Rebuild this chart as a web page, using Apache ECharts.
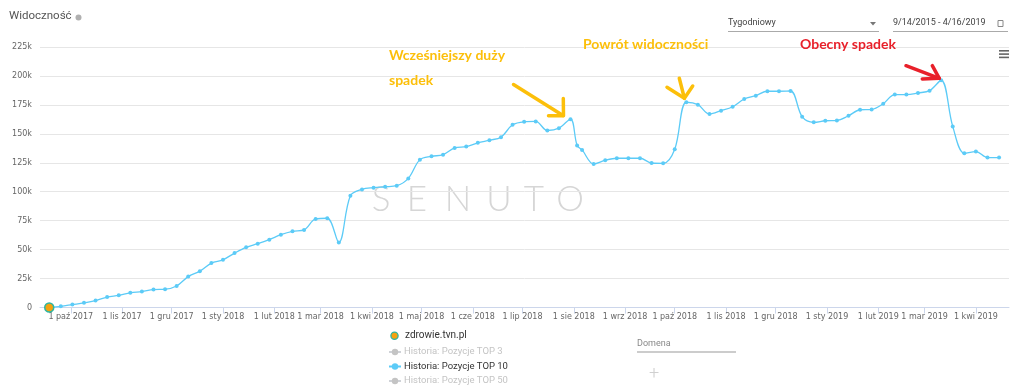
<!DOCTYPE html>
<html>
<head>
<meta charset="utf-8">
<script src="https://cdn.jsdelivr.net/npm/echarts@6/dist/echarts.min.js"></script>
<style>
html,body{margin:0;padding:0;background:#fff;}
#chart{width:1024px;height:391px;}
</style>
</head>
<body>
<div id="chart"></div>
<script>
// ---- data ----
const dates = [
  '2017-09-18','2017-09-25','2017-10-02','2017-10-09','2017-10-16','2017-10-23','2017-10-30',
  '2017-11-06','2017-11-13','2017-11-20','2017-11-27','2017-12-04','2017-12-11','2017-12-18','2017-12-25',
  '2018-01-01','2018-01-08','2018-01-15','2018-01-22','2018-01-29','2018-02-05','2018-02-12','2018-02-19',
  '2018-02-26','2018-03-05','2018-03-12','2018-03-19','2018-03-26','2018-04-02','2018-04-09','2018-04-16',
  '2018-04-23','2018-04-30','2018-05-07','2018-05-14','2018-05-21','2018-05-28','2018-06-04','2018-06-11',
  '2018-06-18','2018-06-25','2018-07-02','2018-07-09','2018-07-16','2018-07-23','2018-07-30','2018-08-03',
  '2018-08-06','2018-08-13','2018-08-20','2018-08-27','2018-09-03','2018-09-10','2018-09-17','2018-09-24',
  '2018-10-01','2018-10-08','2018-10-15','2018-10-22','2018-10-29','2018-11-05','2018-11-12','2018-11-19',
  '2018-11-26','2018-12-03','2018-12-10','2018-12-17','2018-12-24','2018-12-31','2019-01-07','2019-01-14',
  '2019-01-21','2019-01-28','2019-02-04','2019-02-11','2019-02-18','2019-02-25','2019-03-04','2019-03-11',
  '2019-03-18','2019-03-25','2019-04-01','2019-04-08','2019-04-15'
];
const top10Values = [
  0, 1000, 2500, 4000, 6000, 9000, 10500,
  12700, 13800, 15500, 15800, 18600, 26700, 31400, 38400,
  41200, 47000, 52000, 55100, 58600, 62900, 65800, 67000,
  76500, 77100, 56200, 96500, 102000, 103500, 104300, 105200,
  111500, 127700, 130600, 132000, 137800, 139000, 142200, 144500,
  147100, 157800, 160400, 160700, 152900, 154900, 162700, 139900,
  136100, 124000, 127200, 128900, 128900, 128900, 124800, 124500,
  136700, 177300, 175200, 167100, 170000, 173400, 180100, 183000,
  186800, 186800, 187000, 164800, 159900, 161300, 161600, 165600,
  170800, 171100, 176000, 183900, 183900, 185300, 187300, 196300,
  156400, 133200, 134700, 129500, 129500
];
const yTicks = [0, 25000, 50000, 75000, 100000, 125000, 150000, 175000, 200000, 225000];
const monthNames = ['sty','lut','mar','kwi','maj','cze','lip','sie','wrz','paź','lis','gru'];
const seriesNames = ['Historia: Pozycje TOP 3','Historia: Pozycje TOP 10','Historia: Pozycje TOP 50'];
const domainName = 'zdrowie.tvn.pl';

// ---- chart ----
const chart = echarts.init(document.getElementById('chart'), null, {renderer:'canvas'});
const lineColor = '#5ccbf7';
const top10Data = dates.map((d, i) => {
  if (i === 0) {
    return {value:[d, top10Values[i]], symbolSize:9,
      itemStyle:{color:'#f5a20f', borderColor:'#2fb5a0', borderWidth:1.5}};
  }
  return [d, top10Values[i]];
});

const yellow = '#fcbf0a';
const red = '#e8202a';
function arrow(points, color){
  return {type:'polyline', z:100, shape:{points:points},
    style:{stroke:color, lineWidth:3.5, fill:null, lineCap:'round', lineJoin:'round'}};
}
const wm = ['S','E','N','U','T','O'];
const wmX = [381, 417, 458, 499, 534, 570];

const option = {
  animation:false,
  backgroundColor:'#fff',
  grid:{left:40, right:15, top:47, bottom:83.5, containLabel:false},
  xAxis:{
    type:'time',
    min: new Date(2017,8,12,10).getTime(),
    max: new Date(2019,3,21,0).getTime(),
    minInterval: 28*86400000,
    maxInterval: 31*86400000,
    axisLine:{show:true, lineStyle:{color:'#ccd6eb', width:1}},
    axisTick:{show:true, length:6, lineStyle:{color:'#ccd6eb'}},
    splitLine:{show:false},
    axisLabel:{
      color:'#666', fontSize:8, fontFamily:'DejaVu Sans', margin:5,
      showMinLabel:false, showMaxLabel:false,
      formatter:function(val){
        const d = new Date(val);
        return d.getDate() + ' ' + monthNames[d.getMonth()] + ' ' + d.getFullYear();
      }
    }
  },
  yAxis:{
    type:'value', min:yTicks[0], max:yTicks[yTicks.length-1], interval:yTicks[1]-yTicks[0],
    axisLine:{show:false}, axisTick:{show:false},
    splitLine:{lineStyle:{color:'#e6e6e6', width:1}},
    axisLabel:{color:'#666', fontSize:8, fontFamily:'DejaVu Sans', margin:8,
      formatter:function(v){ return v === 0 ? '0' : (v/1000) + 'k'; }}
  },
  legend:{
    orient:'vertical', left:388, top:347, height:44, padding:0, itemGap:4.5,
    itemWidth:12, itemHeight:8,
    data:seriesNames,
    selected:{'Historia: Pozycje TOP 3':false,'Historia: Pozycje TOP 10':true,'Historia: Pozycje TOP 50':false},
    inactiveColor:'#c4c4c4',
    textStyle:{color:'#333', fontSize:9.5, fontFamily:'Roboto', padding:[0,0,0,-2]}
  },
  series:[
    {name:seriesNames[0], type:'line', data:[], color:'#888', symbol:'circle'},
    {name:seriesNames[1], type:'line', data:top10Data, smooth:0.35,
      color:lineColor, symbol:'circle', symbolSize:4, showSymbol:true,
      lineStyle:{color:lineColor, width:1.3}, itemStyle:{color:lineColor}, z:5},
    {name:seriesNames[2], type:'line', data:[], color:'#888', symbol:'circle'}
  ],
  graphic:[
    // title
    {type:'text', left:9, top:10, style:{text:'Widoczność', fill:'#555', font:'11.5px Roboto'}},
    {type:'circle', shape:{cx:78.5, cy:17.5, r:3}, style:{fill:'#b0b0b0'}},
    // period select
    {type:'text', left:728, top:18, style:{text:'Tygodniowy', fill:'#444', font:'9px Roboto'}},
    {type:'polygon', shape:{points:[[870,22],[876,22],[873,25.5]]}, style:{fill:'#777'}},
    {type:'line', shape:{x1:728, y1:31.5, x2:879, y2:31.5}, style:{stroke:'#aaa', lineWidth:1}},
    {type:'text', left:893, top:18, style:{text:'9/14/2015 - 4/16/2019', fill:'#444', font:'9px Roboto'}},
    {type:'rect', shape:{x:998, y:20.5, width:5, height:6}, style:{fill:'none', stroke:'#888', lineWidth:1}},
    {type:'line', shape:{x1:893, y1:31.5, x2:1008, y2:31.5}, style:{stroke:'#aaa', lineWidth:1}},
    // menu icon
    {type:'rect', shape:{x:999, y:50, width:10, height:1.6}, style:{fill:'#666'}},
    {type:'rect', shape:{x:999, y:53.3, width:10, height:1.6}, style:{fill:'#666'}},
    {type:'rect', shape:{x:999, y:56.6, width:10, height:1.6}, style:{fill:'#666'}},
    // annotations
    {type:'text', left:389, top:48, z:100, style:{text:'Wcześniejszy duży', fill:yellow, font:'bold 14px Lato'}},
    {type:'text', left:389, top:73, z:100, style:{text:'spadek', fill:yellow, font:'bold 14px Lato'}},
    {type:'text', left:583, top:37, z:100, style:{text:'Powrót widoczności', fill:yellow, font:'bold 14px Lato'}},
    {type:'text', left:800, top:37, z:100, style:{text:'Obecny spadek', fill:red, font:'bold 14px Lato'}},
    arrow([[513.5,84.5],[563,115.5]], yellow),
    arrow([[548.5,115.7],[563.5,115.7],[563.3,98.5]], yellow),
    arrow([[679.3,78.3],[684.4,98.3]], yellow),
    arrow([[667,87.3],[684.4,98.3],[692.7,86]], yellow),
    arrow([[906,65.7],[939.3,78.3]], red),
    arrow([[932.3,65.7],[939.3,78.3],[922.3,79]], red),
    // watermark
    ...wm.map((ch, i) => ({type:'text', z:0, x:wmX[i], y:200,
      style:{text:ch, fill:'#d6d6d6', font:'300 35px Lato', align:'center', verticalAlign:'middle'}})),
    // domain legend
    {type:'circle', shape:{cx:394.5, cy:335.7, r:3.6}, style:{fill:'#f5a20f', stroke:'#2fb5a0', lineWidth:1.3}},
    {type:'text', left:405, top:330, style:{text:domainName, fill:'#333', font:'10px Roboto'}},
    // domain input
    {type:'text', left:637, top:339, style:{text:'Domena', fill:'#888', font:'9px Roboto'}},
    {type:'line', shape:{x1:637, y1:352, x2:736, y2:352}, style:{stroke:'#999', lineWidth:1}},
    {type:'text', left:649, top:365, style:{text:'+', fill:'#d0d0d0', font:'300 18px Roboto'}}
  ]
};
chart.setOption(option);
</script>
</body>
</html>
